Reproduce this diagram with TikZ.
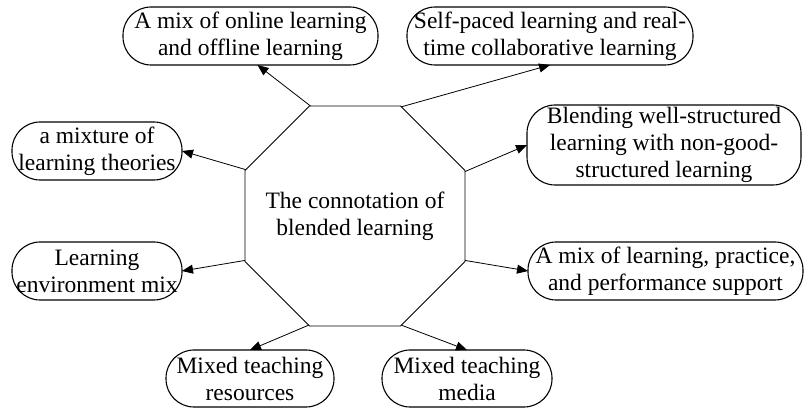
\documentclass[tikz,border=0pt]{standalone}
\usepackage{fontspec}
\setmainfont{Liberation Serif}
\usetikzlibrary{shapes.geometric,arrows.meta}
\tikzset{
	every node/.style={font=\fontsize{23.5}{27}\selectfont},
	concept/.style={regular polygon,regular polygon sides=8,draw,minimum size=238pt,inner sep=-60pt,outer sep=0pt,line width=0.8pt,align=center},
	aspect/.style={rectangle,draw,rounded corners=28pt,line width=1.1pt,inner xsep=-40pt,inner ysep=0pt,outer sep=0pt,minimum height=58pt,align=center},
	link/.style={arrows={-Triangle[length=11pt,width=9pt]},line width=0.8pt}
	}
\begin{document}
\begin{tikzpicture}[x=1pt,y=1pt]
\useasboundingbox (0,0) rectangle (804,410);
% centre
\node[concept] (blend) at (355,194) {The connotation of\\blended learning};
% aspects
\node[aspect,minimum width=255pt] (online) at (250.5,374) {A mix of online learning\\and offline learning};
\node[aspect,minimum width=286pt] (selfpaced) at (550,374) {Self-paced learning and real-\\time collaborative learning};
\node[aspect,minimum width=170pt] (theories) at (97,259) {a mixture of\\learning theories};
\node[aspect,minimum width=274pt,minimum height=80pt] (structured) at (664,265) {Blending well-structured\\learning with non-good-\\structured learning};
\node[aspect,minimum width=170pt] (environment) at (97,139) {Learning\\environment mix};
\node[aspect,minimum width=275pt] (support) at (665.5,139) {A mix of learning, practice,\\and performance support};
\node[aspect,minimum width=168pt,minimum height=57pt] (resources) at (250,31.5) {Mixed teaching\\resources};
\node[aspect,minimum width=170pt,minimum height=57pt] (media) at (467,31.5) {Mixed teaching\\media};
% links
\draw[link] (blend.112.5) -- ([xshift=7pt]online.south);
\draw[link] (blend.67.5) -- (selfpaced.south);
\draw[link] (blend.157.5) -- (theories.east);
\draw[link] (blend.22.5) -- (structured.west);
\draw[link] (blend.202.5) -- (environment.east);
\draw[link] (blend.-22.5) -- (support.west);
\draw[link] (blend.247.5) -- (resources.north);
\draw[link] (blend.-67.5) -- (media.north);
\end{tikzpicture}
\end{document}
